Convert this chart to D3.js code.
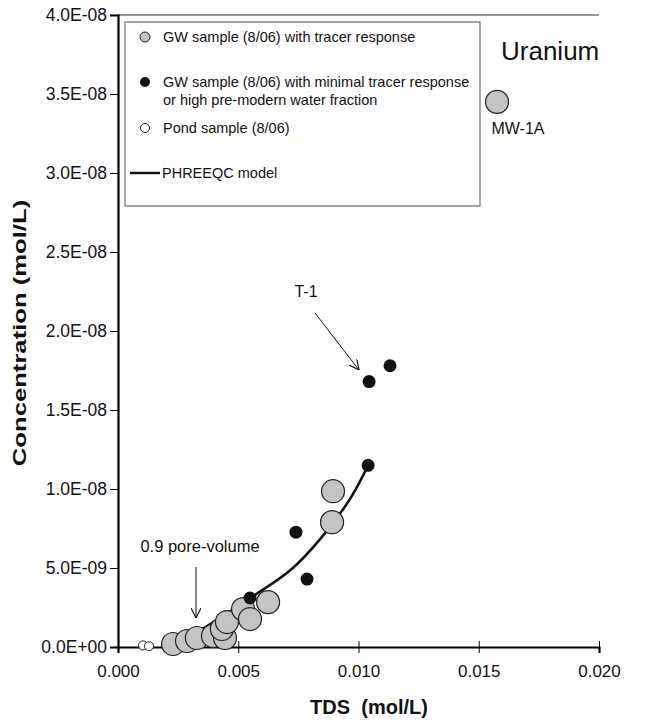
<!DOCTYPE html>
<html><head><meta charset="utf-8">
<script src="https://cdn.jsdelivr.net/npm/d3@7"></script>
<style>body{margin:0;background:#fff}svg{display:block}text{font-family:"Liberation Sans",Arial,sans-serif;fill:#111}</style>
</head><body>
<script>
// TDS (mol/L) and concentration (mol/L)
const gwTracerTDS  = [0.00229,0.00287,0.00328,0.00395,0.00445,0.00432,0.00453,0.00520,0.00549,0.00624,0.00890,0.00894,0.01576];
const gwTracerConc = [1.9e-10,3.8e-10,5.7e-10,7.0e-10,5.7e-10,1.14e-9,1.58e-9,2.4e-9,1.77e-9,2.84e-9,7.9e-9,9.86e-9,3.45e-8];
const gwMinimalTDS  = [0.00549,0.00740,0.00786,0.01040,0.01044,0.01131];
const gwMinimalConc = [3.1e-9,7.27e-9,4.3e-9,1.15e-8,1.68e-8,1.78e-8];
const pondTDS  = [0.00104,0.00129];
const pondConc = [1.0e-10,5.0e-11];
const modelTDS  = [0.0022,0.0035,0.0055,0.0072,0.0085,0.0097,0.0104];
const modelConc = [1.3e-10,1.14e-9,3.1e-9,4.9e-9,7.0e-9,9.5e-9,1.15e-8];
const xTicks = [0,0.005,0.010,0.015,0.020];
const yTicks = [0,5e-9,1e-8,1.5e-8,2e-8,2.5e-8,3e-8,3.5e-8,4e-8];
const legendLabels = [["GW sample (8/06) with tracer response"],["GW sample (8/06) with minimal tracer response","or high pre-modern water fraction"],["Pond sample (8/06)"],["PHREEQC model"]];

const W=655,H=721;
const svg=d3.select("body").append("svg").attr("width",W).attr("height",H);
const x=d3.scaleLinear().domain([0,0.02]).range([118,599]);
const y=d3.scaleLinear().domain([0,4e-8]).range([647,15]);

function fmtE(v){
  if(v===0) return "0.0E+00";
  const e=Math.floor(Math.log10(Math.abs(v))+1e-9);
  const m=v/Math.pow(10,e);
  const s=e<0?"-":"+";
  return m.toFixed(1)+"E"+s+String(Math.abs(e)).padStart(2,"0");
}

// top frame line
svg.append("line").attr("x1",118).attr("x2",599).attr("y1",15).attr("y2",15).attr("stroke","#333").attr("stroke-width",1);

// y axis
const ya=svg.append("g").attr("transform","translate(118,0)")
  .call(d3.axisLeft(y).tickValues(yTicks).tickFormat(fmtE).tickSize(8).tickPadding(3));
ya.select(".domain").attr("stroke","#000").attr("stroke-width",2.2);
ya.selectAll(".tick line").attr("stroke","#000").attr("stroke-width",1);
ya.selectAll("text").attr("font-size",17.5).attr("fill","#111").style("font-family","Liberation Sans");

// x axis
const xa=svg.append("g").attr("transform","translate(0,647)")
  .call(d3.axisBottom(x).tickValues(xTicks).tickFormat(d3.format(".3f")).tickSize(6).tickPadding(12));
xa.select(".domain").attr("stroke","#000").attr("stroke-width",2.2);
xa.selectAll(".tick line").attr("y1",-6).attr("stroke","#000").attr("stroke-width",1);
xa.selectAll("text").attr("font-size",17).attr("fill","#111").style("font-family","Liberation Sans");

// axis titles
svg.append("text").attr("x",369).attr("y",714).attr("text-anchor","middle")
  .attr("font-size",20).attr("font-weight","bold").text("TDS \u00a0(mol/L)");
svg.append("text").attr("transform","translate(26,333) scale(1,1.35) rotate(-90)").attr("text-anchor","middle")
  .attr("font-size",19).attr("font-weight","bold").text("Concentration (mol/L)");

// model line
const line=d3.line().x(d=>x(d[0])).y(d=>y(d[1])).curve(d3.curveCatmullRom.alpha(0.5));
svg.append("path").datum(modelTDS.map((t,i)=>[t,modelConc[i]]))
  .attr("d",line).attr("fill","none").attr("stroke","#111").attr("stroke-width",2.6);

// points
svg.append("g").selectAll("circle").data(gwTracerTDS.map((t,i)=>[t,gwTracerConc[i]])).join("circle")
  .attr("cx",d=>x(d[0])).attr("cy",d=>y(d[1])).attr("r",11.5)
  .attr("fill","#c3c3c3").attr("stroke","#222").attr("stroke-width",1.2);
svg.append("g").selectAll("circle").data(gwMinimalTDS.map((t,i)=>[t,gwMinimalConc[i]])).join("circle")
  .attr("cx",d=>x(d[0])).attr("cy",d=>y(d[1])).attr("r",6.5).attr("fill","#111");
svg.append("g").selectAll("circle").data(pondTDS.map((t,i)=>[t,pondConc[i]])).join("circle")
  .attr("cx",d=>x(d[0])).attr("cy",d=>y(d[1])).attr("r",4.5)
  .attr("fill","#fff").attr("stroke","#222").attr("stroke-width",1);

// arrows
svg.append("defs").append("marker").attr("id","ah").attr("viewBox","0 0 10 10").attr("refX",10).attr("refY",5)
  .attr("markerWidth",10).attr("markerHeight",10).attr("markerUnits","userSpaceOnUse").attr("orient","auto")
  .append("path").attr("d","M0,0 L10,5 L0,10").attr("fill","none").attr("stroke","#111").attr("stroke-width",1.2);
svg.append("line").attr("x1",315).attr("y1",313).attr("x2",359).attr("y2",370).attr("stroke","#111").attr("stroke-width",1).attr("marker-end","url(#ah)");
svg.append("line").attr("x1",196).attr("y1",567).attr("x2",196).attr("y2",618).attr("stroke","#111").attr("stroke-width",1).attr("marker-end","url(#ah)");
svg.append("text").attr("x",306).attr("y",297).attr("text-anchor","middle").attr("font-size",16).text("T-1");
svg.append("text").attr("x",200).attr("y",552).attr("text-anchor","middle").attr("font-size",16.5).text("0.9 pore-volume");

// title and label
svg.append("text").attr("x",501).attr("y",60).attr("font-size",26).text("Uranium");
svg.append("text").attr("x",518).attr("y",134).attr("text-anchor","middle").attr("font-size",16).text("MW-1A");

// legend
const lg=svg.append("g");
lg.append("rect").attr("x",125).attr("y",22).attr("width",355).attr("height",184)
  .attr("fill","#fff").attr("stroke","#777").attr("stroke-width",1.3);
const ly=[37,82,128,173];
lg.append("circle").attr("cx",145).attr("cy",ly[0]).attr("r",5).attr("fill","#c3c3c3").attr("stroke","#222").attr("stroke-width",1);
lg.append("circle").attr("cx",145).attr("cy",ly[1]).attr("r",5).attr("fill","#111");
lg.append("circle").attr("cx",145).attr("cy",ly[2]).attr("r",4.5).attr("fill","#fff").attr("stroke","#222").attr("stroke-width",1);
lg.append("line").attr("x1",130).attr("x2",160).attr("y1",ly[3]).attr("y2",ly[3]).attr("stroke","#111").attr("stroke-width",2.4);
legendLabels.forEach((lines,i)=>{
  lines.forEach((s,j)=>{
    lg.append("text").attr("x",i===3?162:163).attr("y",ly[i]+j*18).attr("dy","0.35em").attr("font-size",14.5).text(s);
  });
});
</script>
</body></html>
